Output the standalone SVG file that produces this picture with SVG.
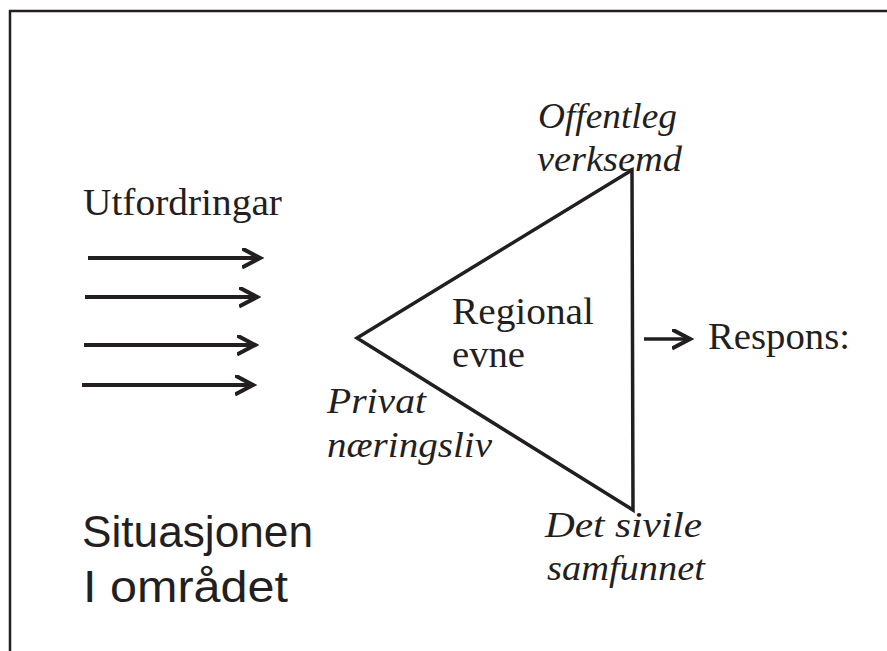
<svg xmlns="http://www.w3.org/2000/svg" width="887" height="651" viewBox="0 0 887 651">
<style>
.ink{fill:#231f20}
.serif{font-family:"Liberation Serif","Times New Roman",serif;font-size:37px}
.it{font-family:"Liberation Serif","Times New Roman",serif;font-size:36px;font-style:italic}
.sans{font-family:"Liberation Sans",Arial,sans-serif;font-size:44px}
.ln{stroke:#231f20;fill:none;stroke-linecap:butt}
.arr{stroke:#231f20;stroke-width:4;fill:none}
</style>
<defs>
<marker id="chev" markerWidth="22" markerHeight="24" refX="18" refY="10" orient="auto" markerUnits="userSpaceOnUse" viewBox="0 0 22 24">
<path d="M0,0.5 L18,10 L0,19.5" fill="none" stroke="#231f20" stroke-width="4.2"/>
</marker>
</defs>
<rect width="887" height="651" fill="#fff"/>
<g id="frame">
<path d="M10,651 V11 H887" class="ln" stroke-width="2.5"/>
</g>
<g id="challenges">
<text x="83" y="215" class="serif ink" textLength="199" lengthAdjust="spacingAndGlyphs">Utfordringar</text>
</g>
<g id="connectors">
<line x1="88" y1="258" x2="260" y2="258" class="arr" marker-end="url(#chev)"/>
<line x1="85" y1="297" x2="257" y2="297" class="arr" marker-end="url(#chev)"/>
<line x1="84" y1="345" x2="255" y2="345" class="arr" marker-end="url(#chev)"/>
<line x1="82" y1="385" x2="253" y2="385" class="arr" marker-end="url(#chev)"/>
<line x1="644" y1="339" x2="690" y2="339" stroke="#231f20" stroke-width="3.5" marker-end="url(#chev)"/>
</g>
<g id="triangle">
<path d="M632,170 L357,338 L633,510 Z" class="ln" stroke-width="3.5" stroke-linejoin="miter"/>
<text x="452" y="324" class="serif ink" textLength="142" lengthAdjust="spacingAndGlyphs">Regional</text>
<text x="452" y="367" class="serif ink" textLength="73" lengthAdjust="spacingAndGlyphs">evne</text>
</g>
<g id="offentleg">
<text x="538" y="128" class="it ink" textLength="139" lengthAdjust="spacingAndGlyphs">Offentleg</text>
<text x="537" y="171" class="it ink" textLength="145" lengthAdjust="spacingAndGlyphs">verksemd</text>
</g>
<g id="privat">
<text x="327" y="413" class="it ink" textLength="99" lengthAdjust="spacingAndGlyphs">Privat</text>
<text x="327" y="457" class="it ink" textLength="165" lengthAdjust="spacingAndGlyphs">næringsliv</text>
</g>
<g id="sivile">
<text x="545" y="537" class="it ink" textLength="157" lengthAdjust="spacingAndGlyphs">Det sivile</text>
<text x="547" y="580" class="it ink" textLength="158" lengthAdjust="spacingAndGlyphs">samfunnet</text>
</g>
<g id="respons">
<text x="708" y="349" class="serif ink" textLength="142" lengthAdjust="spacingAndGlyphs">Respons:</text>
</g>
<g id="situasjonen">
<text x="82" y="547" class="sans ink" textLength="231" lengthAdjust="spacingAndGlyphs">Situasjonen</text>
<text x="83" y="602" class="sans ink" textLength="205" lengthAdjust="spacingAndGlyphs">I området</text>
</g>
</svg>
